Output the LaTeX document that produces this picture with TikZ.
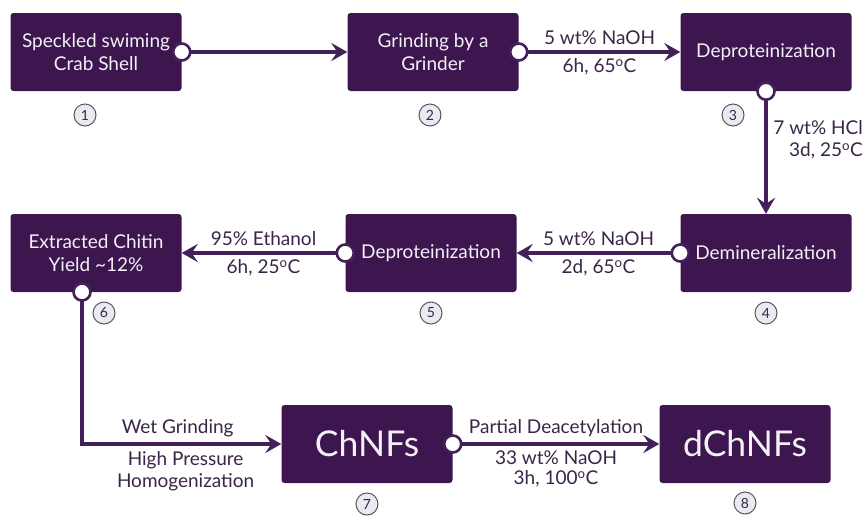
\documentclass[tikz,border=0pt]{standalone}
\usepackage{fontspec}
\setmainfont{Lato}
\usetikzlibrary{arrows.meta}
\usetikzlibrary{positioning}
\definecolor{plum}{HTML}{3D1650}
\definecolor{plumline}{HTML}{43205A}
\definecolor{plumtext}{HTML}{3A2548}
\definecolor{badgefill}{HTML}{ECEAF1}
\definecolor{badgeline}{HTML}{5A5560}

\begin{document}
\begin{tikzpicture}[
    x=1pt, y=-1pt,
    step box/.style={rectangle, fill=plum, text=white!94!plum,
      minimum width=171pt, minimum height=78pt,
      rounded corners=3pt, align=center, font=\fontsize{19}{23}\selectfont},
    big box/.style={step box, font=\fontsize{35.5}{40}\selectfont},
    badge/.style={circle, draw=badgeline, fill=badgefill, line width=1pt,
      minimum size=22pt, inner sep=0pt, text=plumtext,
      font=\fontsize{14}{14}\selectfont},
    dot/.style={circle, draw=plumline, fill=white, line width=2.6pt,
      minimum size=17pt, inner sep=0pt},
    lbl/.style={text=plumtext, align=center, inner sep=2pt,
      font=\fontsize{19}{22}\selectfont},
    arrow/.style={-{Stealth[length=16pt, width=18pt, inset=6pt]},
      line width=4pt, draw=plumline},
  ]
    \useasboundingbox (0,0) rectangle (863,515);

    % process steps
    \node[step box] (crab)  at (96,52)  {Speckled swiming\\Crab Shell};
    \node[step box] (grind) at (433,52) {Grinding by a\\Grinder};
    \node[step box] (dep1)  at (766,52) {Deproteinization};
    \node[step box] (demin) at (766,253) {Demineralization};
    \node[step box] (dep2)  at (431,253) {Deproteinization};
    \node[step box] (chitin) at (96,253) {Extracted Chitin\\Yield \textasciitilde12\%};
    \node[big box] (chnf)  at (367,444) {ChNFs};
    \node[big box] (dchnf) at (745,444) {dChNFs};

    % step numbers
    \node[badge] (b1) at (85,115)  {1};
    \node[badge] (b2) at (430,115) {2};
    \node[badge] (b3) at (733,115) {3};
    \node[badge] (b4) at (766,313) {4};
    \node[badge] (b5) at (431,313) {5};
    \node[badge] (b6) at (104,313) {6};
    \node[badge] (b7) at (367,504) {7};
    \node[badge] (b8) at (745,503) {8};

    \coordinate (c6) at (82,292);

    % connectors
    \draw[arrow] (crab.east) -- (grind.west);
    \draw[arrow] (grind.east) -- (dep1.west)
      node[lbl, midway, above=3pt] (l2a) {5 wt\% NaOH}
      node[lbl, midway, below=3pt] (l2b) {6h, 65\textsuperscript{o}C};
    \draw[arrow] (dep1.south) -- (demin.north);
    \node[lbl, align=right, anchor=east, inner sep=0pt] (l3) at (863,140)
      {7 wt\% HCl\\3d, 25\textsuperscript{o}C};
    \draw[arrow] (demin.west) -- (dep2.east)
      node[lbl, midway, above=3pt] (l4a) {5 wt\% NaOH}
      node[lbl, midway, below=3pt] (l4b) {2d, 65\textsuperscript{o}C};
    \draw[arrow] (dep2.west) -- (chitin.east)
      node[lbl, midway, above=3pt] (l5a) {95\% Ethanol}
      node[lbl, midway, below=3pt] (l5b) {6h, 25\textsuperscript{o}C};
    \draw[arrow] (c6) |- (chnf.west)
      node[lbl, pos=0.74, above=3pt] (l6a) {Wet Grinding}
      node[lbl, pos=0.76, below=3pt] (l6b) {High Pressure\\Homogenization};
    \draw[arrow] (chnf.east) -- (dchnf.west)
      node[lbl, midway, above=3pt] (l7a) {Partial Deacetylation}
      node[lbl, midway, below=3pt, font=\fontsize{19}{20}\selectfont]
        (l7b) {33 wt\% NaOH\\3h, 100\textsuperscript{o}C};

    % connector dots
    \node[dot] (d1) at (crab.east) {};
    \node[dot] (d2) at (grind.east) {};
    \node[dot] (d3) at (dep1.south) {};
    \node[dot] (d4) at (demin.west) {};
    \node[dot] (d5) at (dep2.west) {};
    \node[dot] (d6) at (c6) {};
    \node[dot] (d7) at (chnf.east) {};
\end{tikzpicture}
\end{document}
